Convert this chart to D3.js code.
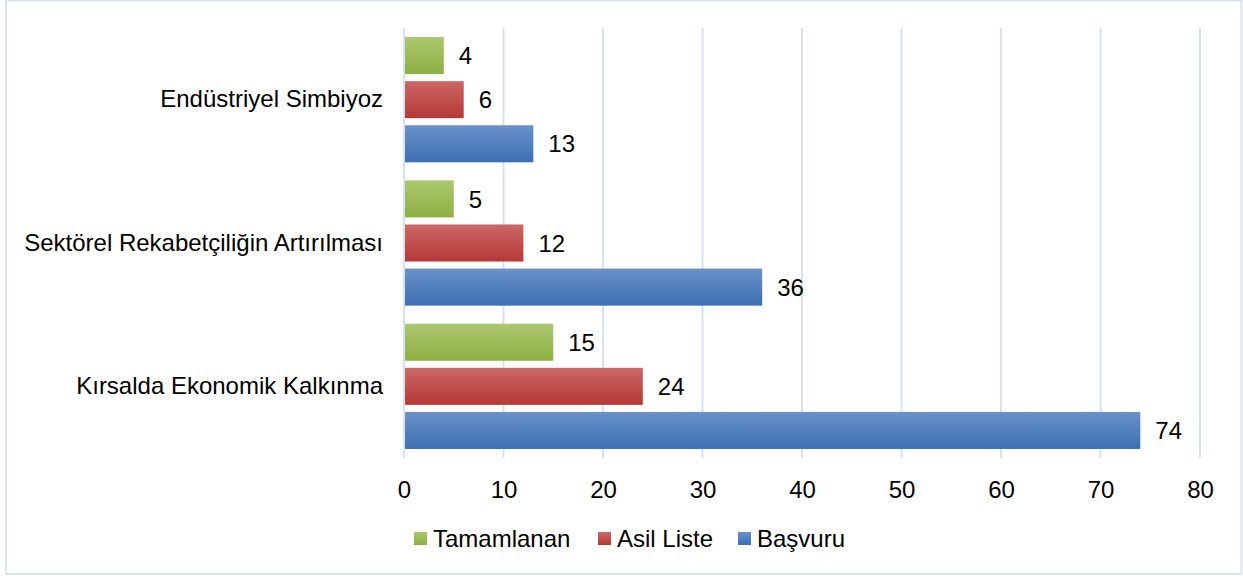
<!DOCTYPE html>
<meta charset="utf-8">
<head>
<title>Proje sayıları</title>
<style>
  body { margin: 0; background: #fff; }
  text { font-family: "Liberation Sans", Arial, sans-serif; fill: #000; }
</style>
</head>
<body>
<script src="https://d3js.org/d3.v7.min.js"></script>
<script>

// data
var categories = ["Endüstriyel Simbiyoz", "Sektörel Rekabetçiliğin Artırılması", "Kırsalda Ekonomik Kalkınma"];
var seriesNames = ["Tamamlanan", "Asil Liste", "Başvuru"];
var tamamlanan = [4, 5, 15];
var asilListe = [6, 12, 24];
var basvuru = [13, 36, 74];
var xTicks = [0, 10, 20, 30, 40, 50, 60, 70, 80];

var seriesValues = [tamamlanan, asilListe, basvuru];
var colors = [
  { top: "#abc76f", bottom: "#8db043" },
  { top: "#cb6866", bottom: "#b63836" },
  { top: "#6b91c9", bottom: "#3b6fb2" }
];

var width = 1243,
    height = 579,
    fontSize = "24px";

var svg = d3.select("body").append("svg")
    .attr("width", width)
    .attr("height", height);

// outer frame
svg.append("rect")
    .attr("x", 6).attr("y", 0.5)
    .attr("width", width - 7.5).attr("height", height - 5.5)
    .attr("fill", "#fff")
    .attr("stroke", "#d9e3f2")
    .attr("stroke-width", 2);

var defs = svg.append("defs");
colors.forEach(function(c, i) {
  var g = defs.append("linearGradient")
      .attr("id", "grad" + i)
      .attr("x1", 0).attr("y1", 0).attr("x2", 0).attr("y2", 1);
  g.append("stop").attr("offset", "0%").attr("stop-color", c.top);
  g.append("stop").attr("offset", "100%").attr("stop-color", c.bottom);
});

var margin = { left: 404, right: 43, top: 28, bottom: 121 };
var plotW = width - margin.left - margin.right,
    plotH = height - margin.top - margin.bottom;

var x = d3.scaleLinear().domain([0, 80]).range([margin.left, margin.left + plotW]);

var y = d3.scaleBand()
    .domain(categories)
    .range([margin.top, margin.top + plotH])
    .paddingInner(0.126)
    .paddingOuter(0.063);

var ySub = d3.scaleBand()
    .domain(seriesNames)
    .range([0, y.bandwidth()])
    .paddingInner(0.16);

// gridlines
svg.append("g")
  .selectAll("line")
  .data(xTicks)
  .enter().append("line")
    .attr("x1", function(d) { return x(d); })
    .attr("x2", function(d) { return x(d); })
    .attr("y1", margin.top)
    .attr("y2", margin.top + plotH)
    .attr("stroke", "#d6e2f2")
    .attr("stroke-width", 2);

// x axis labels
var xAxis = d3.axisBottom(x).tickValues(xTicks).tickSize(0).tickPadding(0);
var gx = svg.append("g")
    .attr("transform", "translate(0," + (margin.top + plotH) + ")")
    .call(xAxis);
gx.select(".domain").remove();
gx.selectAll("text")
    .attr("dy", null)
    .attr("y", 40)
    .style("font-family", "'Liberation Sans', Arial, sans-serif")
    .style("font-size", fontSize)
    .attr("fill", "#000");

// category labels
var yAxis = d3.axisLeft(y).tickSize(0).tickPadding(21);
var gy = svg.append("g")
    .attr("transform", "translate(" + margin.left + ",0)")
    .call(yAxis);
gy.select(".domain").remove();
gy.selectAll("text")
    .style("font-family", "'Liberation Sans', Arial, sans-serif")
    .style("font-size", fontSize)
    .attr("fill", "#000");

// bars
var groups = svg.append("g")
  .selectAll("g")
  .data(categories)
  .enter().append("g")
    .attr("transform", function(d) { return "translate(0," + y(d) + ")"; });

groups.each(function(cat, ci) {
  var g = d3.select(this);
  seriesNames.forEach(function(s, si) {
    var v = seriesValues[si][ci];
    g.append("rect")
        .attr("x", x(0) + 1)
        .attr("y", ySub(s))
        .attr("width", x(v) - x(0) - 1)
        .attr("height", ySub.bandwidth())
        .attr("fill", "url(#grad" + si + ")");
    g.append("text")
        .attr("x", x(v) + 15)
        .attr("y", ySub(s) + ySub.bandwidth() / 2)
        .attr("dy", "0.36em")
        .style("font-size", fontSize)
        .text(v);
  });
});

// legend
var legendItems = [
  { name: seriesNames[0], x: 414 },
  { name: seriesNames[1], x: 598 },
  { name: seriesNames[2], x: 738 }
];
var legend = svg.append("g").attr("transform", "translate(0,538)");
legendItems.forEach(function(d, i) {
  legend.append("rect")
      .attr("x", d.x).attr("y", -6)
      .attr("width", 13).attr("height", 13)
      .attr("fill", "url(#grad" + i + ")");
  legend.append("text")
      .attr("x", d.x + 19)
      .attr("y", 0)
      .attr("dy", "0.36em")
      .style("font-size", fontSize)
      .text(d.name);
});

</script>
</body>
